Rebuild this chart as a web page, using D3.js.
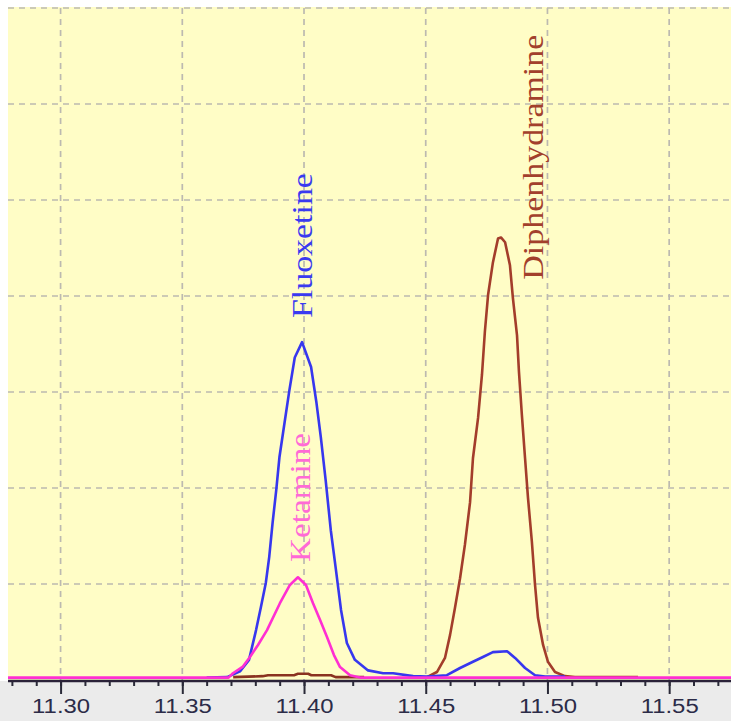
<!DOCTYPE html>
<html>
<head>
<meta charset="utf-8">
<script src="https://cdn.jsdelivr.net/npm/d3@7"></script>
<style>
	body { margin: 0; background: #ffffff; }
	svg { display: block; }
</style>
</head>
<body>
<div id="root"></div>
<script>
// retention time (min) vs relative abundance

const fluoxetine = [
	[11.3600, 0.025], [11.3684, 0.03], [11.3737, 0.09], [11.3774, 0.21], [11.3803, 0.52],
	[11.3823, 0.76], [11.3843, 1.01], [11.3857, 1.28], [11.3871, 1.64], [11.3886, 1.98],
	[11.3899, 2.32], [11.3920, 2.68], [11.3940, 3.02], [11.3962, 3.36], [11.3992, 3.52],
	[11.4029, 3.26], [11.4051, 2.89], [11.4069, 2.53], [11.4089, 2.08], [11.4110, 1.56],
	[11.4131, 1.15], [11.4152, 0.73], [11.4176, 0.385], [11.4209, 0.21], [11.4263, 0.10],
	[11.4325, 0.07], [11.4366, 0.07], [11.4448, 0.04], [11.4505, 0.035], [11.4587, 0.05],
	[11.4641, 0.125], [11.4694, 0.19], [11.4735, 0.24], [11.4776, 0.29], [11.4834, 0.30],
	[11.4867, 0.23], [11.4908, 0.125], [11.4949, 0.05], [11.4990, 0.035], [11.5072, 0.035]
];

const ketamine = [
	[11.2784, 0.025], [11.3690, 0.025], [11.3708, 0.07], [11.3749, 0.14], [11.3778, 0.24],
	[11.3811, 0.365], [11.3848, 0.52], [11.3901, 0.80], [11.3942, 0.99], [11.3975, 1.07],
	[11.4008, 0.99], [11.4037, 0.80], [11.4066, 0.625], [11.4094, 0.45], [11.4123, 0.26],
	[11.4148, 0.135], [11.4189, 0.05], [11.4230, 0.025], [11.5754, 0.025]
];

const diphenBump = [
	[11.3709, 0.03], [11.3830, 0.04], [11.3852, 0.05], [11.3959, 0.05], [11.3975, 0.065],
	[11.4017, 0.065], [11.4030, 0.05], [11.4111, 0.05], [11.4130, 0.03], [11.4247, 0.03]
];

const diphenPeak = [
	[11.4505, 0.03], [11.4546, 0.083], [11.4579, 0.23], [11.4600, 0.47], [11.4620, 0.75],
	[11.4641, 1.06], [11.4661, 1.41], [11.4682, 1.85], [11.4694, 2.31], [11.4715, 2.73],
	[11.4731, 3.18], [11.4743, 3.63], [11.4756, 4.01], [11.4776, 4.35], [11.4797, 4.60],
	[11.4809, 4.61], [11.4826, 4.56], [11.4846, 4.32], [11.4858, 3.98], [11.4875, 3.59],
	[11.4883, 3.21], [11.4895, 2.76], [11.4908, 2.31], [11.4920, 1.90], [11.4936, 1.44],
	[11.4949, 0.99], [11.4961, 0.65], [11.4982, 0.365], [11.5002, 0.19], [11.5031, 0.083],
	[11.5072, 0.04], [11.5113, 0.03], [11.5372, 0.03]
];

const majorTicks = [11.30, 11.35, 11.40, 11.45, 11.50, 11.55];
const minorTicks = d3.range(11.28, 11.58, 0.01).map(d => +d.toFixed(2));
const gridLevels = [1, 2, 3, 4, 5, 6, 7];

// peak labels: name, time of the text baseline, level where the text starts
const labelNames = ["Fluoxetine", "Ketamine", "Diphenhydramine"];
const labelTimes = [11.4033, 11.4024, 11.4982];
const labelLevels = [3.77, 1.23, 4.17];

const width = 731;
const height = 721;
const margin = { left: 8, top: 7, bottom: 681 };

const x = d3.scaleLinear()
	.domain([11.2784, 11.5754])
	.range([margin.left, width]);

const y = d3.scaleLinear()
	.domain([0, 7])
	.range([680, 8]);

const svg = d3.select("#root")
	.append("svg")
		.attr("width", width)
		.attr("height", height);

// backgrounds
svg.append("rect")
	.attr("x", 0).attr("y", margin.bottom)
	.attr("width", width).attr("height", height - margin.bottom)
	.style("fill", "#ebebeb");

svg.append("rect")
	.attr("x", margin.left).attr("y", margin.top)
	.attr("width", width - margin.left).attr("height", margin.bottom - margin.top)
	.style("fill", "#fffdc6");

// dashed grid
const grid = svg.append("g")
	.style("stroke", "#bcb9b0")
	.style("stroke-width", 1.7)
	.style("stroke-dasharray", "6,5");

grid.selectAll(".hgrid")
	.data(gridLevels).enter()
	.append("line")
		.attr("class", "hgrid")
		.attr("x1", margin.left).attr("x2", width)
		.attr("y1", d => y(d)).attr("y2", d => y(d));

grid.selectAll(".vgrid")
	.data(majorTicks).enter()
	.append("line")
		.attr("class", "vgrid")
		.attr("x1", d => x(d)).attr("x2", d => x(d))
		.attr("y1", y(7)).attr("y2", y(0));

// traces
const line = d3.line()
	.x(d => x(d[0]))
	.y(d => y(d[1]));

const traces = [
	{ data: diphenBump, color: "#8a3220" },
	{ data: diphenPeak, color: "#a33d2b" },
	{ data: fluoxetine, color: "#3737ee" },
	{ data: ketamine, color: "#ff2fd2" }
];

svg.selectAll(".trace")
	.data(traces).enter()
	.append("path")
		.attr("class", "trace")
		.attr("d", d => line(d.data))
		.style("fill", "none")
		.style("stroke", d => d.color)
		.style("stroke-width", 2.6)
		.style("stroke-linejoin", "round");

// x axis
const axisY = 681;

const minorAxis = svg.append("g")
	.attr("transform", `translate(0,${axisY})`)
	.call(d3.axisBottom(x).tickValues(minorTicks).tickSize(5).tickFormat(""));

const majorAxis = svg.append("g")
	.attr("transform", `translate(0,${axisY})`)
	.call(d3.axisBottom(x).tickValues(majorTicks).tickSize(13).tickFormat(d3.format(".2f")));

[minorAxis, majorAxis].forEach(g => {
	g.select(".domain").remove();
	g.selectAll(".tick line")
		.style("stroke", "#2a2a38")
		.style("stroke-width", 2);
});

majorAxis.selectAll(".tick text")
	.attr("y", 32)
	.attr("dy", 0)
	.attr("textLength", 58)
	.attr("lengthAdjust", "spacingAndGlyphs")
	.style("font-family", "'Liberation Sans', Arial, sans-serif")
	.style("font-size", "19.5px")
	.style("fill", "#2c2c48");

svg.append("line")
	.attr("x1", margin.left).attr("x2", width)
	.attr("y1", axisY).attr("y2", axisY)
	.style("stroke", "#2a2238")
	.style("stroke-width", 2.5);

// peak labels
const labelColors = ["#3a3af0", "#ff6ad6", "#a2402c"];
const labelLengths = [145, 129, 245];

svg.selectAll(".peak-label")
	.data(labelNames).enter()
	.append("text")
		.attr("class", "peak-label")
		.text(d => d)
		.attr("transform", (d, i) => `translate(${x(labelTimes[i])},${y(labelLevels[i])}) rotate(-90)`)
		.attr("textLength", (d, i) => labelLengths[i])
		.attr("lengthAdjust", "spacingAndGlyphs")
		.style("font-family", "'Liberation Serif', 'Times New Roman', serif")
		.style("font-size", "29px")
		.style("fill", (d, i) => labelColors[i]);
</script>
</body>
</html>
